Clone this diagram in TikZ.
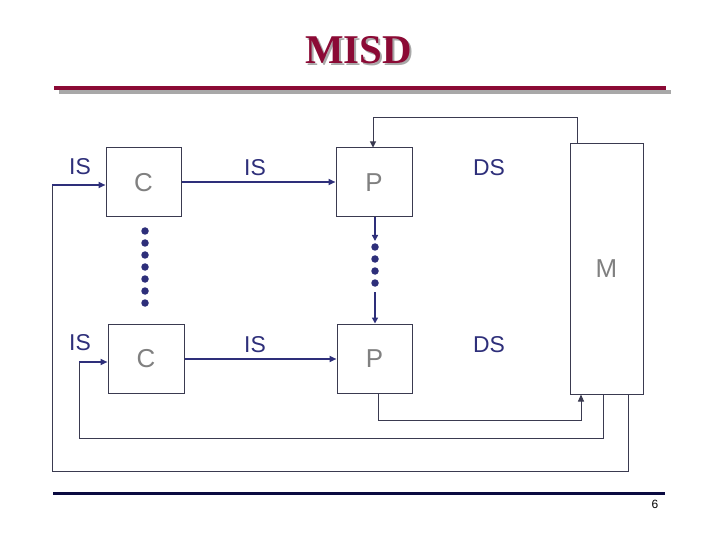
\documentclass[tikz,border=0pt]{standalone}
\usepackage{fontspec}
\setmainfont{Liberation Sans}
\newfontfamily\titlefont{Liberation Serif}
\usetikzlibrary{arrows.meta}
\definecolor{maroon}{HTML}{8B0A35}
\definecolor{navy}{HTML}{2E2F7A}
\definecolor{boxline}{HTML}{3A3A50}
\definecolor{lettergray}{HTML}{808080}
\definecolor{shadowgray}{HTML}{A8A8A8}
\definecolor{rulenavy}{HTML}{0A0A40}
\tikzset{
  x=1bp,y=-1bp,
  unitbox/.style={draw=boxline,line width=1bp,inner sep=0pt,font=\fontsize{26}{26}\selectfont,text=lettergray},
  lbl/.style={inner sep=0pt,text=navy,font=\fontsize{23}{23}\selectfont},
  thickarrow/.style={draw=navy,line width=2bp,-{Triangle[length=7bp,width=6bp]}},
  loopline/.style={draw=boxline,line width=1bp},
  dotc/.style={circle,fill=navy,inner sep=0pt,minimum size=7.5bp}
}
\begin{document}
\begin{tikzpicture}
\useasboundingbox (0,0) rectangle (720,540);
% title with shadow in one node
\node[inner sep=0pt,anchor=base,text=maroon,font=\titlefont\bfseries\fontsize{41}{41}\selectfont] (title) at (358.5,64)
  {\rlap{\hspace{2bp}\raisebox{-2bp}{\textcolor{shadowgray}{MISD}}}MISD};
\fill[shadowgray] (59,90) rectangle (671,94);
\fill[maroon] (54,86) rectangle (666,90);
% bottom rule
\fill[rulenavy] (53,491.5) rectangle (665,494.5);
\node[inner sep=0pt,font=\fontsize{12}{12}\selectfont] (pnum) at (655,504) {6};
% boxes
\node[unitbox,minimum width=75bp,minimum height=69bp] (C1) at (143.5,182.5) {C};
\node[unitbox,minimum width=76bp,minimum height=69bp] (P1) at (374,182.5) {P};
\node[unitbox,minimum width=76bp,minimum height=69bp] (C2) at (146,358.5) {C};
\node[unitbox,minimum width=75bp,minimum height=69bp] (P2) at (374.5,358.5) {P};
\node[unitbox,minimum width=73bp,minimum height=250bp] (M) at (606.5,269) {M};
% labels
\node[lbl] (is1) at (80,167) {IS};
\node[lbl] (is2) at (255,168) {IS};
\node[lbl] (ds1) at (489,168) {DS};
\node[lbl] (is3) at (80,343) {IS};
\node[lbl] (is4) at (255,345) {IS};
\node[lbl] (ds2) at (489,345) {DS};
% C to P arrows
\draw[thickarrow] (C1.east |- 0,182) -- (P1.west |- 0,182);
\draw[thickarrow] (C2.east |- 0,359) -- (P2.west |- 0,359);
% dots between C boxes
\foreach \i in {0,...,6} { \node[dotc] (cd\i) at (145,231+12*\i) {}; }
% P to P chain
\coordinate (pa) at (375,241);
\coordinate (pb) at (375,292);
\draw[draw=navy,line width=2bp,-{Triangle[length=6bp,width=6bp]}] (P1.south -| pa) -- (pa);
\foreach \i in {0,...,3} { \node[dotc] (pd\i) at (375,247+12*\i) {}; }
\draw[draw=navy,line width=2bp,-{Triangle[length=6bp,width=6bp]}] (pb) -- (P2.north -| pb);
% top loop M -> P1
\coordinate (t1) at (577,118);
\coordinate (t2) at (373,118);
\draw[loopline,-{Triangle[length=6bp,width=6bp]}] (M.north -| t1) -- (t1) -- (t2) -- (P1.north -| t2);
% P2 -> M
\coordinate (b1) at (378,420);
\coordinate (b2) at (581,420);
\draw[loopline,-{Triangle[length=7bp,width=6bp]}] (P2.south -| b1) -- (b1) -- (b2) -- (M.south -| b2);
% M -> C2
\coordinate (m1) at (603,438);
\coordinate (m2) at (79,438);
\coordinate (m3) at (79,362);
\draw[loopline] (M.south -| m1) -- (m1) -- (m2) -- (m3);
\draw[thickarrow,line width=1.8bp] (m3) -- (C2.west |- m3);
% M -> C1 outer
\coordinate (o1) at (628,471);
\coordinate (o2) at (52,471);
\coordinate (o3) at (52,185);
\draw[loopline] (M.south -| o1) -- (o1) -- (o2) -- (o3);
\draw[thickarrow,line width=1.8bp] (o3) -- (C1.west |- o3);
\end{tikzpicture}
\end{document}
